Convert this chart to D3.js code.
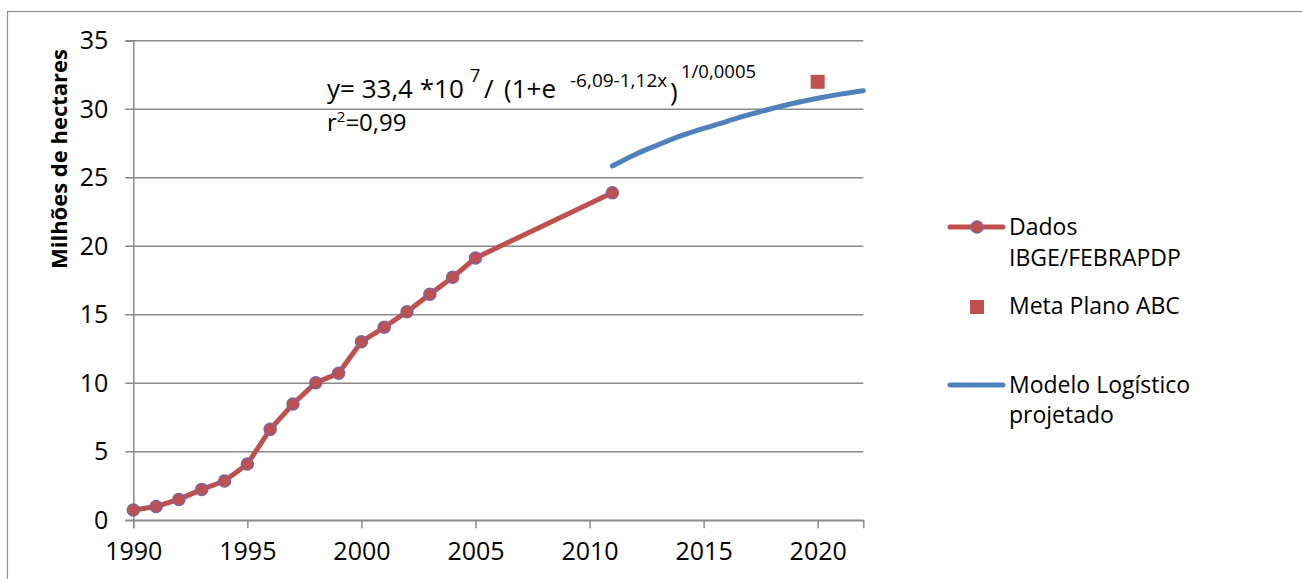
<!DOCTYPE html>
<html>
<head>
<meta charset="utf-8">
<script src="https://cdn.jsdelivr.net/npm/d3@7"></script>
<style>
  html, body { margin: 0; padding: 0; background: #fff; }
  svg { display: block; }
  text { font-family: "Open Sans", Lato, sans-serif; fill: #000; }
</style>
</head>
<body>
<svg id="chart" width="1302" height="579"></svg>
<script>
// Área em plantio direto (milhões de hectares)
const anosDados = [1990, 1991, 1992, 1993, 1994, 1995, 1996, 1997, 1998, 1999,
                   2000, 2001, 2002, 2003, 2004, 2005, 2011];
const valoresDados = [0.75, 1.0, 1.52, 2.25, 2.86, 4.1, 6.63, 8.48, 10.04, 10.72,
                      13.03, 14.08, 15.22, 16.49, 17.73, 19.14, 23.9];

// Meta do Plano ABC
const anosMeta = [2020];
const valoresMeta = [32.0];

// Projeção do modelo logístico
const anosModelo = [2011, 2012, 2013, 2014, 2015, 2016, 2017, 2018, 2019, 2020, 2021, 2022];
const valoresModelo = [25.85, 26.7, 27.4, 28.05, 28.6, 29.1, 29.6, 30.05, 30.45, 30.8, 31.1, 31.35];

const ticksX = [1990, 1995, 2000, 2005, 2010, 2015, 2020];
const ticksY = [0, 5, 10, 15, 20, 25, 30, 35];

const fonte = "'Open Sans', Lato, sans-serif";
const svg = d3.select("#chart");

// moldura do gráfico
svg.append("rect")
  .attr("x", 7.5).attr("y", 11.5)
  .attr("width", 1400).attr("height", 700)
  .attr("fill", "none").attr("stroke", "#8c8c8c").attr("stroke-width", 1.2);

const x = d3.scaleLinear().domain([1990, 2022]).range([133.3, 863.3]);
const y = d3.scaleLinear().domain([0, 35]).range([520.2, 40.7]);

const cinza = "#8a8a8a";

// linhas de grade horizontais
svg.append("g")
  .selectAll("line")
  .data(ticksY)
  .join("line")
  .attr("x1", x.range()[0] - 8).attr("x2", x.range()[1])
  .attr("y1", d => y(d)).attr("y2", d => y(d))
  .attr("stroke", cinza).attr("stroke-width", 1.5);

// eixo Y
const eixoY = svg.append("g")
  .attr("transform", `translate(${x.range()[0]},0)`)
  .call(d3.axisLeft(y).tickValues(ticksY).tickSize(8).tickPadding(17).tickFormat(d3.format("d")));
eixoY.select(".domain").attr("stroke", cinza).attr("stroke-width", 1.5);
eixoY.selectAll(".tick line").attr("stroke", "none");
eixoY.selectAll(".tick text")
  .style("font-family", fonte)
  .style("font-size", "25px").attr("fill", "#000");

// eixo X
const eixoX = svg.append("g")
  .attr("transform", `translate(0,${y(0)})`)
  .call(d3.axisBottom(x).tickValues(ticksX).tickSize(8).tickPadding(14).tickFormat(d3.format("d")));
eixoX.select(".domain").attr("stroke", cinza).attr("stroke-width", 1.5);
eixoX.selectAll(".tick line").attr("stroke", cinza).attr("stroke-width", 1.5);
eixoX.selectAll(".tick text")
  .style("font-family", fonte)
  .style("font-size", "25px").attr("fill", "#000");

// título do eixo Y
svg.append("text")
  .attr("transform", "translate(67,159) rotate(-90)")
  .attr("text-anchor", "middle")
  .style("font-size", "22px").style("font-weight", "bold")
  .text("Milhões de hectares");

const vermelho = "#C0504D";
const roxo = "#8064A2";
const azul = "#4F81BD";

// série de dados observados
const dados = anosDados.map((a, i) => ({ a, v: valoresDados[i] }));
svg.append("path")
  .datum(dados)
  .attr("fill", "none").attr("stroke", vermelho).attr("stroke-width", 5)
  .attr("stroke-linejoin", "round").attr("stroke-linecap", "round")
  .attr("d", d3.line().x(d => x(d.a)).y(d => y(d.v)));
svg.append("g")
  .selectAll("circle")
  .data(dados)
  .join("circle")
  .attr("cx", d => x(d.a)).attr("cy", d => y(d.v)).attr("r", 6)
  .attr("fill", vermelho).attr("stroke", roxo).attr("stroke-width", 1.5);

// modelo logístico
const modelo = anosModelo.map((a, i) => ({ a, v: valoresModelo[i] }));
svg.append("path")
  .datum(modelo)
  .attr("fill", "none").attr("stroke", azul).attr("stroke-width", 5)
  .attr("stroke-linecap", "round")
  .attr("d", d3.line().curve(d3.curveMonotoneX).x(d => x(d.a)).y(d => y(d.v)));

// meta
svg.append("g")
  .selectAll("rect")
  .data(anosMeta.map((a, i) => ({ a, v: valoresMeta[i] })))
  .join("rect")
  .attr("x", d => x(d.a) - 7).attr("y", d => y(d.v) - 7)
  .attr("width", 14).attr("height", 14)
  .attr("fill", vermelho);

// equação do ajuste
const eq = svg.append("g");
eq.append("text").attr("x", 327).attr("y", 98).style("font-size", "26px").text("y= 33,4 *10");
eq.append("text").attr("x", 470).attr("y", 82).style("font-size", "18px").text("7");
eq.append("text").attr("x", 484).attr("y", 98).style("font-size", "26px").text("/");
eq.append("text").attr("x", 504).attr("y", 98).style("font-size", "26px").text("(1+e");
eq.append("text").attr("x", 570).attr("y", 87).style("font-size", "19px").text("-6,09-1,12x");
eq.append("text").attr("x", 670).attr("y", 101).style("font-size", "26px").text(")");
eq.append("text").attr("x", 681).attr("y", 78).style("font-size", "18.5px").text("1/0,0005");

const r2 = svg.append("text").attr("x", 327).attr("y", 131).style("font-size", "24px");
r2.append("tspan").text("r");
r2.append("tspan").attr("dy", -9).style("font-size", "15px").text("2");
r2.append("tspan").attr("dy", 9).text("=0,99");

// legenda
const leg = svg.append("g");
leg.append("line").attr("x1", 950).attr("x2", 1003).attr("y1", 227).attr("y2", 227)
  .attr("stroke", vermelho).attr("stroke-width", 5).attr("stroke-linecap", "round");
leg.append("circle").attr("cx", 977).attr("cy", 227).attr("r", 6)
  .attr("fill", vermelho).attr("stroke", roxo).attr("stroke-width", 1.5);
leg.append("text").attr("x", 1009).attr("y", 235).style("font-size", "23px").text("Dados");
leg.append("text").attr("x", 1009).attr("y", 266).style("font-size", "23px").text("IBGE/FEBRAPDP");

leg.append("rect").attr("x", 970).attr("y", 300).attr("width", 14).attr("height", 14)
  .attr("fill", vermelho);
leg.append("text").attr("x", 1009).attr("y", 314).style("font-size", "23px").text("Meta Plano ABC");

leg.append("line").attr("x1", 950).attr("x2", 1003).attr("y1", 385).attr("y2", 385)
  .attr("stroke", azul).attr("stroke-width", 5).attr("stroke-linecap", "round");
leg.append("text").attr("x", 1009).attr("y", 393).style("font-size", "23px").text("Modelo Logístico");
leg.append("text").attr("x", 1009).attr("y", 423).style("font-size", "23px").text("projetado");
</script>
</body>
</html>
